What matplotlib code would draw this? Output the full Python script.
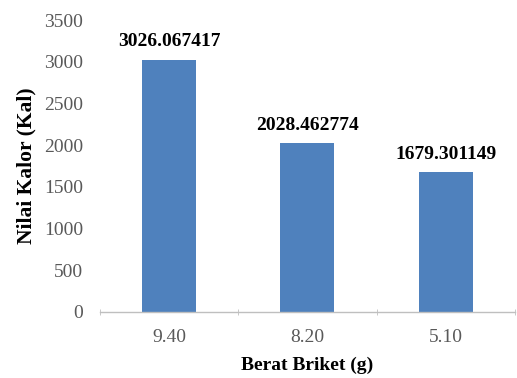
import matplotlib
matplotlib.use("Agg")
import matplotlib.pyplot as plt
import numpy as np

categories = ["9.40", "8.20", "5.10"]
values = [3026.067417, 2028.462774, 1679.301149]
value_labels = ["3026.067417", "2028.462774", "1679.301149"]
y_ticks = [0, 500, 1000, 1500, 2000, 2500, 3000, 3500]

plt.rcParams["font.family"] = ["Liberation Serif", "DejaVu Serif"]

fig = plt.figure(figsize=(5.17, 3.78), dpi=100)
ax = fig.add_axes([0.193, 0.175, 0.803, 0.772])

x = np.arange(len(categories))
ax.bar(x, values, width=0.39, color="#4F81BD", zorder=2)

for xi, v, lab in zip(x, values, value_labels):
    ax.text(xi, v + 110, lab, ha="center", va="bottom",
            fontsize=14, fontweight="bold", color="black")

ax.set_xlim(-0.5, len(categories) - 0.5)
ax.set_ylim(0, 3500)
ax.set_yticks(y_ticks)
ax.set_yticklabels([str(t) for t in y_ticks])
ax.set_xticks(x)
ax.set_xticklabels(categories)
ax.set_xticks(np.arange(-0.5, len(categories)), minor=True)

for side in ("top", "right", "left"):
    ax.spines[side].set_visible(False)
ax.spines["bottom"].set_color("#BFBFBF")
ax.spines["bottom"].set_linewidth(1.0)

ax.tick_params(axis="y", length=0, pad=12, labelsize=14, labelcolor="#595959")
ax.tick_params(axis="x", which="major", length=0, pad=12, labelsize=14,
               labelcolor="#595959")
ax.tick_params(axis="x", which="minor", length=4, color="#BFBFBF",
               direction="inout")

ax.set_ylabel("Nilai Kalor (Kal)", fontsize=15.5, fontweight="bold")
ax.set_xlabel("Berat Briket (g)", fontsize=14, fontweight="bold")
ax.yaxis.set_label_coords(-0.152, 0.5)
ax.xaxis.set_label_coords(0.5, -0.155)

fig.savefig("out.png", dpi=100)
